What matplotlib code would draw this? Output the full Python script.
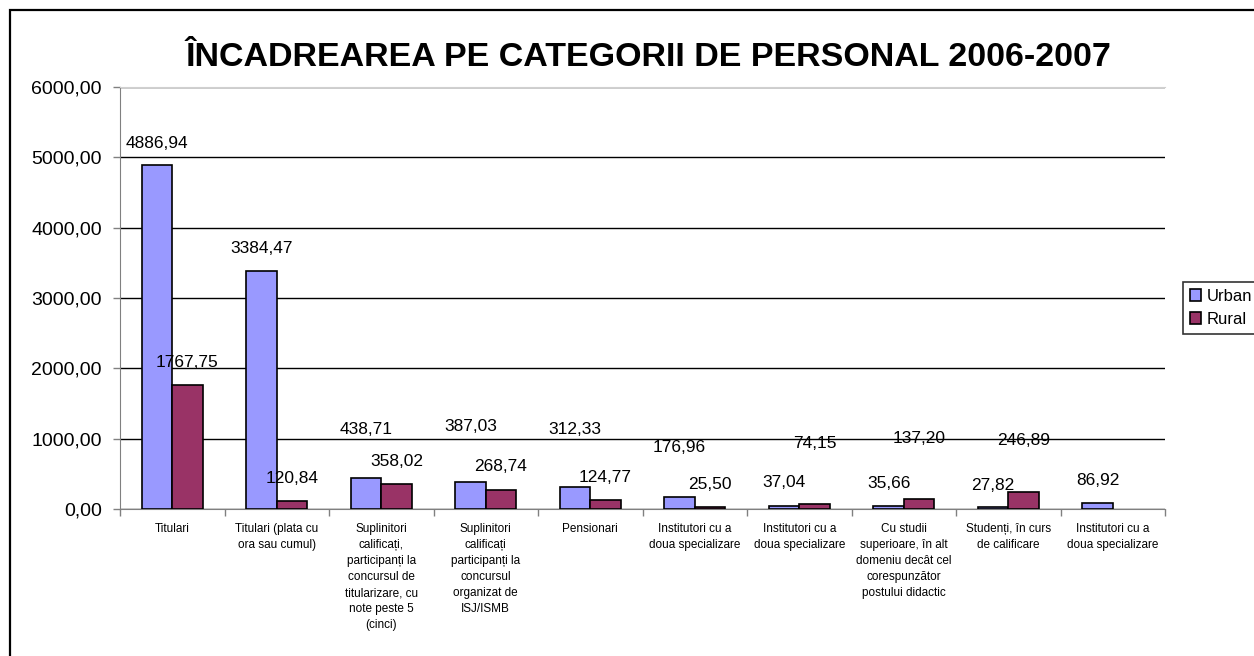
import numpy as np
import matplotlib.pyplot as plt
from matplotlib.patches import Rectangle
from matplotlib.ticker import FuncFormatter, MultipleLocator, FixedLocator

plt.rcParams['font.family'] = ['Liberation Sans', 'DejaVu Sans']

title = "ÎNCADREAREA PE CATEGORII DE PERSONAL 2006-2007"
categories = [
    "Titulari",
    "Titulari (plata cu\nora sau cumul)",
    "Suplinitori\ncalificați,\nparticipanți la\nconcursul de\ntitularizare, cu\nnote peste 5\n(cinci)",
    "Suplinitori\ncalificați\nparticipanți la\nconcursul\norganizat de\nISJ/ISMB",
    "Pensionari",
    "Institutori cu a\ndoua specializare",
    "Institutori cu a\ndoua specializare",
    "Cu studii\nsuperioare, în alt\ndomeniu decât cel\ncorespunzător\npostului didactic",
    "Studenți, în curs\nde calificare",
    "Institutori cu a\ndoua specializare",
]
urban = [4886.94, 3384.47, 438.71, 387.03, 312.33, 176.96, 37.04, 35.66, 27.82, 86.92]
rural = [1767.75, 120.84, 358.02, 268.74, 124.77, 25.50, 74.15, 137.20, 246.89, None]
series_names = ["Urban", "Rural"]

# where the hand-placed data labels sit above each bar (data units)
urban_lbl_off = [305, 314, 685, 780, 812, 691, 333, 334, 313, 325]
rural_lbl_off = [309, 306, 311, 329, 316, 316, 851, 859, 720, 0]

c_urban = "#9999FF"
c_rural = "#993366"

fig = plt.figure(figsize=(12.54, 6.56), dpi=100)
ax = fig.add_axes([120 / 1254, 1 - 509 / 656, 1045 / 1254, 422 / 656])

# outer chart border (runs off right/bottom edge)
fig.patches.append(Rectangle((10 / 1254, -0.05), 1.2, 1 - 10 / 656 + 0.05,
                             transform=fig.transFigure, fill=False,
                             edgecolor="black", lw=1.6))

x = np.arange(len(categories))
w = 0.29
r_idx = [i for i, v in enumerate(rural) if v is not None]

bu = ax.bar(x - w / 2, urban, w, color=c_urban, edgecolor="black", lw=1.2,
            label=series_names[0], zorder=3)
br = ax.bar(x[r_idx] + w / 2, [rural[i] for i in r_idx], w, color=c_rural,
            edgecolor="black", lw=1.2, label=series_names[1], zorder=3)

def fmt(v):
    return f"{v:.2f}".replace(".", ",")

for i, v in enumerate(urban):
    ax.text(x[i] - w / 2, v + urban_lbl_off[i], fmt(v), ha="center", va="center",
            fontsize=12.5, zorder=4)
for i in r_idx:
    v = rural[i]
    ax.text(x[i] + w / 2, v + rural_lbl_off[i], fmt(v), ha="center", va="center",
            fontsize=12.5, zorder=4)

ax.set_xlim(-0.5, len(categories) - 0.5)
ax.set_ylim(0, 6000)
ax.yaxis.set_major_locator(MultipleLocator(1000))
ax.yaxis.set_major_formatter(FuncFormatter(lambda v, p: fmt(v)))
ax.tick_params(axis="y", labelsize=14, length=5, width=1, color="#808080", pad=8)
ax.grid(axis="y", color="black", lw=1, zorder=1)

ax.set_xticks(x)
ax.set_xticklabels(categories, fontsize=8.5, linespacing=1.45, va="top")
ax.tick_params(axis="x", which="major", length=0, pad=10)
ax.xaxis.set_minor_locator(FixedLocator(np.arange(-0.5, len(categories), 1)))
ax.tick_params(axis="x", which="minor", length=5, width=1, color="#808080")

ax.spines["right"].set_visible(False)
ax.spines["top"].set_color("#d0d0d0")
ax.spines["left"].set_color("#808080")
ax.spines["bottom"].set_color("#808080")

fig.text(648 / 1254, 1 - 58 / 656, title, ha="center", va="center",
         fontsize=24.5, fontweight="bold")

leg = fig.legend(handles=[bu, br], labels=series_names, loc="upper left",
                 bbox_to_anchor=(1183 / 1254, 1 - 282 / 656), fontsize=12,
                 frameon=True, fancybox=False, edgecolor="black",
                 handlelength=0.7, handleheight=0.7, handletextpad=0.3,
                 borderpad=0.4, labelspacing=0.5, borderaxespad=0)
leg.get_frame().set_linewidth(1.2)

fig.savefig("out.png", dpi=100)
